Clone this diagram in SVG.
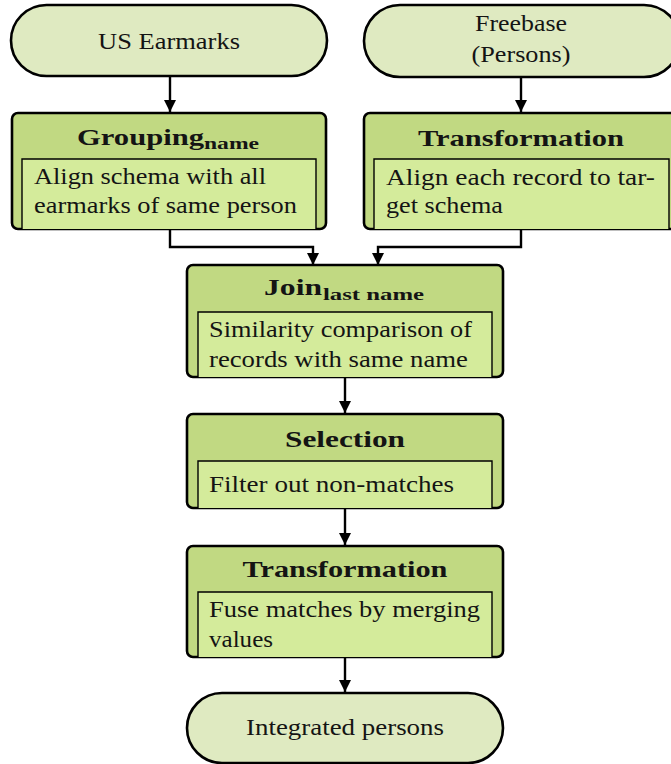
<svg xmlns="http://www.w3.org/2000/svg" width="671" height="764" viewBox="0 0 671 764">
  <style>
    .term { fill: #dfeac1; stroke: #000; stroke-width: 2.6; }
    .box { fill: #c1d982; stroke: #000; stroke-width: 2.6; }
    .inner { fill: #d4eb9b; stroke: #000; stroke-width: 1.4; }
    text { font-family: "Liberation Serif", "DejaVu Serif", serif; fill: #141414; }
    .t { font-size: 23px; }
    .h { font-size: 24px; font-weight: bold; text-anchor: middle; }
    .hb { font-size: 24px; font-weight: bold; }
    .sub { font-size: 17px; font-weight: bold; }
    .c { text-anchor: middle; }
    .wire { fill: none; stroke: #000; stroke-width: 2.4; }
  </style>
  <defs>
    <marker id="arr" viewBox="0 0 10 10" refX="10" refY="5" markerWidth="5.2" markerHeight="5.2" markerUnits="strokeWidth" orient="auto">
      <path d="M0,0 L10,5 L0,10 Z" fill="#000"/>
    </marker>
  </defs>

  <!-- connectors -->
  <g id="edges">
    <path class="wire" d="M170,76 V112" marker-end="url(#arr)"/>
    <path class="wire" d="M521,77 V112" marker-end="url(#arr)"/>
    <path class="wire" d="M170,229 V247 H313 V265" marker-end="url(#arr)"/>
    <path class="wire" d="M521,229 V247 H378 V265" marker-end="url(#arr)"/>
    <path class="wire" d="M345,377 V413" marker-end="url(#arr)"/>
    <path class="wire" d="M345,508 V545" marker-end="url(#arr)"/>
    <path class="wire" d="M345,657 V692" marker-end="url(#arr)"/>
  </g>

  <!-- sources -->
  <g id="us-earmarks">
    <rect class="term" x="11" y="5" width="316" height="71" rx="35.5"/>
    <text class="t c" x="169" y="49" textLength="142" lengthAdjust="spacingAndGlyphs">US Earmarks</text>
  </g>
  <g id="freebase">
    <rect class="term" x="364" y="5" width="316" height="72" rx="36"/>
    <text class="t c" x="521" y="31" textLength="92" lengthAdjust="spacingAndGlyphs">Freebase</text>
    <text class="t c" x="521" y="62" textLength="99" lengthAdjust="spacingAndGlyphs">(Persons)</text>
  </g>

  <!-- grouping -->
  <g id="grouping">
    <rect class="box" x="12" y="113" width="314" height="116" rx="6"/>
    <path class="inner" d="M22,229 V159 H316 V229"/>
    <text class="hb" x="77" y="145" textLength="127" lengthAdjust="spacingAndGlyphs">Grouping</text>
    <text class="sub" x="204" y="149" textLength="55" lengthAdjust="spacingAndGlyphs">name</text>
    <text class="t" x="34" y="184" textLength="232" lengthAdjust="spacingAndGlyphs">Align schema with all</text>
    <text class="t" x="34" y="213" textLength="263" lengthAdjust="spacingAndGlyphs">earmarks of same person</text>
  </g>

  <!-- transformation of freebase -->
  <g id="transform-freebase">
    <rect class="box" x="364" y="113" width="316" height="116" rx="6"/>
    <path class="inner" d="M374,229 V159 H669 V229"/>
    <text class="h" x="521" y="146" textLength="206" lengthAdjust="spacingAndGlyphs">Transformation</text>
    <text class="t" x="386" y="185" textLength="269" lengthAdjust="spacingAndGlyphs">Align each record to tar-</text>
    <text class="t" x="386" y="213" textLength="117" lengthAdjust="spacingAndGlyphs">get schema</text>
  </g>

  <!-- join -->
  <g id="join">
    <rect class="box" x="187" y="265" width="316" height="112" rx="6"/>
    <path class="inner" d="M198,377 V312 H492 V377"/>
    <text class="hb" x="264" y="295" textLength="58" lengthAdjust="spacingAndGlyphs">Join</text>
    <text class="sub" x="323" y="300" textLength="101" lengthAdjust="spacingAndGlyphs">last  name</text>
    <text class="t" x="209" y="337" textLength="263" lengthAdjust="spacingAndGlyphs">Similarity comparison of</text>
    <text class="t" x="209" y="367" textLength="259" lengthAdjust="spacingAndGlyphs">records with same name</text>
  </g>

  <!-- selection -->
  <g id="selection">
    <rect class="box" x="187" y="414" width="316" height="94" rx="6"/>
    <path class="inner" d="M198,508 V461 H492 V508"/>
    <text class="h" x="345" y="447" textLength="120" lengthAdjust="spacingAndGlyphs">Selection</text>
    <text class="t" x="209" y="492" textLength="245" lengthAdjust="spacingAndGlyphs">Filter out non-matches</text>
  </g>

  <!-- fusion -->
  <g id="transform-fuse">
    <rect class="box" x="187" y="546" width="316" height="111" rx="6"/>
    <path class="inner" d="M198,657 V592 H492 V657"/>
    <text class="h" x="345" y="577" textLength="205" lengthAdjust="spacingAndGlyphs">Transformation</text>
    <text class="t" x="209" y="617" textLength="271" lengthAdjust="spacingAndGlyphs">Fuse matches by merging</text>
    <text class="t" x="209" y="647" textLength="64" lengthAdjust="spacingAndGlyphs">values</text>
  </g>

  <!-- result -->
  <g id="integrated">
    <rect class="term" x="187" y="693" width="316" height="70" rx="35"/>
    <text class="t c" x="345" y="735" textLength="198" lengthAdjust="spacingAndGlyphs">Integrated persons</text>
  </g>
</svg>
